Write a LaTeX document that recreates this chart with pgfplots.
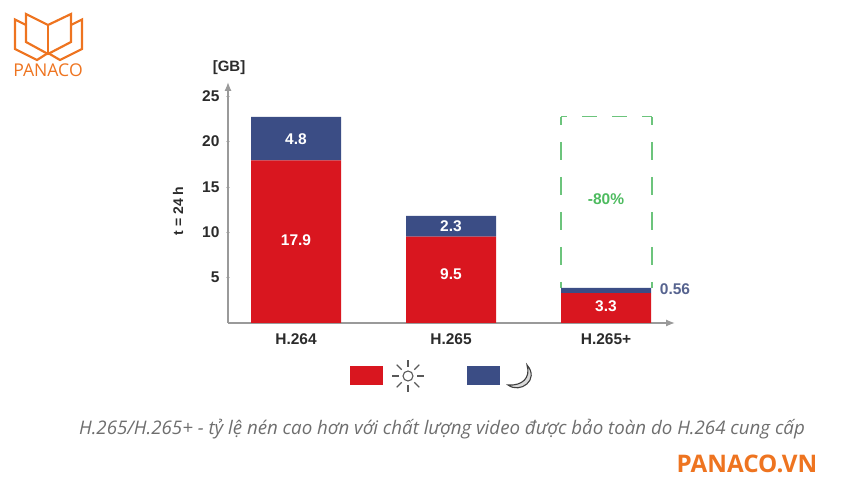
\documentclass[border=0pt]{standalone}
\usepackage{pgfplots}
\pgfplotsset{compat=1.18}
\usetikzlibrary{arrows.meta}
\usepackage{fontspec}
\setmainfont{Liberation Sans}
\newfontfamily\opensans{Open Sans}
\definecolor{barred}{HTML}{D9161F}
\definecolor{barblue}{HTML}{3B4D85}
\definecolor{axgray}{HTML}{9A9A9A}
\definecolor{orangeb}{HTML}{EE7420}
\definecolor{dashgreen}{HTML}{6CC47C}
\definecolor{txtgreen}{HTML}{4DBB5F}
\definecolor{lblblue}{HTML}{56638F}
\definecolor{txtdark}{HTML}{2B2B2B}
\definecolor{capgray}{HTML}{6E6E6E}
\newcommand{\lblfont}{\bfseries\fontsize{15.5}{16}\selectfont}
\begin{document}
\begin{tikzpicture}
\path[use as bounding box] (0,0) rectangle (850pt,500pt);
\begin{axis}[
  at={(228pt,177pt)}, anchor=south west,
  scale only axis, width=447pt, height=241pt,
  xmin=-0.4387, xmax=2.445, ymin=0, ymax=26.54,
  ybar stacked, bar width=90pt,
  axis x line=bottom, axis y line=left,
  axis line style={axgray, line width=1.3pt, -{Latex[length=9pt,width=7pt]}},
  xtick={0,1,2}, xticklabels={H.264,H.265,H.265+},
  ytick={5,10,15,20,25},
  tick style={draw=axgray!50, line width=0.5pt},
  major tick length=4pt,
  x tick style={draw=none},
  tick label style={font=\lblfont, text=txtdark},
  y tick label style={xshift=-3pt},
  x tick label style={yshift=-5pt},
  /pgf/number format/assume math mode=true,
  clip=false,
]
\addplot[fill=barred, draw=none] coordinates {(0,17.9) (1,9.5) (2,3.3)};
\addplot[fill=barblue, draw=none] coordinates {(0,4.8) (1,2.3) (2,0.56)};
\draw[dashgreen, line width=1.2pt, dash=on 18pt off 17pt phase 10pt] (axis cs:1.7097,22.7) -- (axis cs:1.7097,3.86);
\draw[dashgreen, line width=1.2pt, dash=on 18pt off 17pt phase 10pt] (axis cs:2.2968,22.7) -- (axis cs:2.2968,3.86);
\draw[dashgreen, line width=1.2pt, dash=on 15pt off 15pt phase 9pt] (axis cs:1.7097,22.7) -- (axis cs:2.2968,22.7);
\end{axis}
\begin{scope}[shift={(0,500pt)}, x=1pt, y=-1pt]
\node[font=\lblfont, white] at (296,240) {17.9};
\node[font=\lblfont, white] at (296,139) {4.8};
\node[font=\lblfont, white] at (451,274) {9.5};
\node[font=\lblfont, white] at (451,226) {2.3};
\node[font=\lblfont, white] at (606,306) {3.3};
\node[font=\lblfont, lblblue] at (675,289) {0.56};
\node[font=\lblfont, txtgreen] at (606,199) {-80\%};
\node[font=\bfseries\fontsize{15}{16}\selectfont, txtdark] at (229,68) {[GB]};
\node[font=\bfseries\fontsize{14}{14}\selectfont, txtdark, rotate=90] at (178,211) {t = 24 h};
% legend
\fill[barred] (350,366) rectangle (383,385);
\fill[barblue] (467,366) rectangle (500,385);
\begin{scope}[shift={(408,376)}, draw=black!65, line width=1.1pt]
\draw (0,0) circle (5pt);
\foreach \a in {0,45,...,315} \draw (\a:9pt) -- (\a:16pt);
\end{scope}
\draw[black!75, line width=1.1pt, fill=black!15]
  (527,365) .. controls (531,378) and (522,386) .. (508,385)
  .. controls (520,394) and (540,380) .. (527,365) -- cycle;
% caption
\node[font=\opensans\itshape\fontsize{18.7}{20}\selectfont, capgray] at (442,429) {H.265/H.265+ - tỷ lệ nén cao hơn với chất lượng video được bảo toàn do H.264 cung cấp};
\node[font=\opensans\bfseries\fontsize{24.2}{26}\selectfont, orangeb] at (747,464) {PANACO.VN};
% logo
\begin{scope}[draw=orangeb, line width=2.2pt, line join=miter]
\draw (26,14) -- (48,25) -- (71,14) -- (71,42) -- (48,54) -- (26,42) -- cycle;
\draw (48,25) -- (48,54);
\draw (26,25) -- (15,19.5) -- (15,49) -- (37,60) -- (48,53) -- (60,60) -- (82,49) -- (82,19.5) -- (71,25);
\end{scope}
\node[font=\opensans\fontsize{17.6}{18}\selectfont, orangeb] at (48,70) {PANACO};
\end{scope}
\end{tikzpicture}
\end{document}
